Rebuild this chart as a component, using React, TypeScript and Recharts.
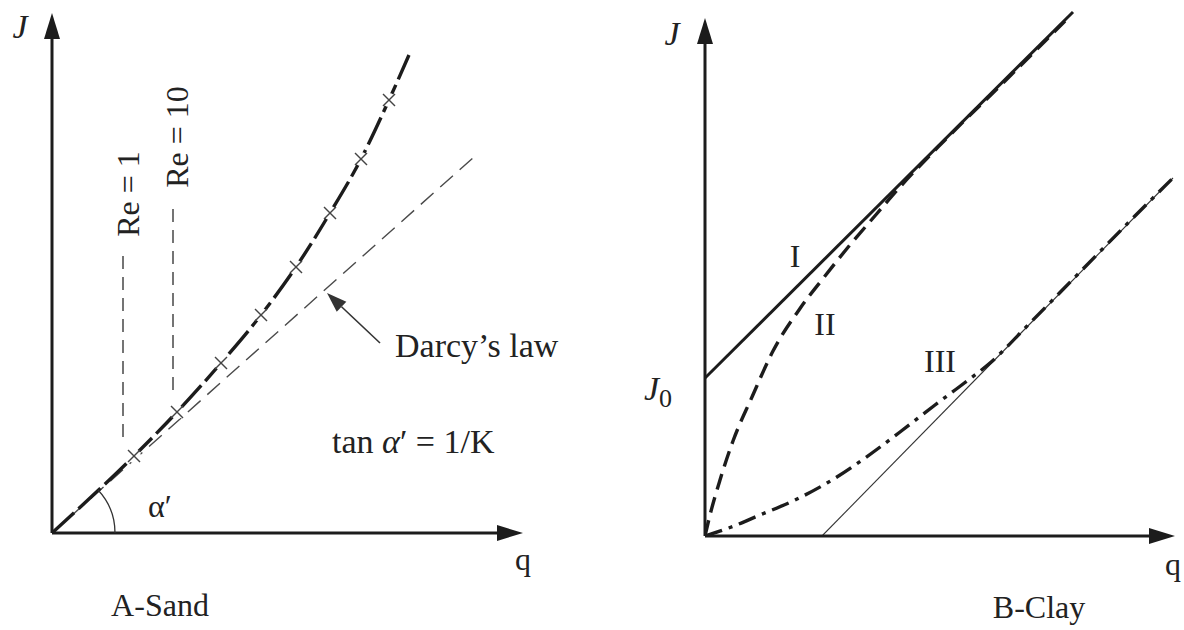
import React from 'react';
import {
  ComposedChart,
  Line,
  Scatter,
  XAxis,
  YAxis,
  ReferenceLine,
  ReferenceDot,
} from 'recharts';

const FONT = '"Liberation Serif", "Times New Roman", serif';
const INK = '#1c1c1c';

// A - sand: measured points (crosses) along the J(q) curve
const sandMeasured = [
  { q: 1.64, J: 1.54 },
  { q: 2.5, J: 2.42 },
  { q: 3.38, J: 3.4 },
  { q: 4.18, J: 4.36 },
  { q: 4.88, J: 5.32 },
  { q: 5.56, J: 6.4 },
  { q: 6.18, J: 7.48 },
  { q: 6.74, J: 8.66 },
];
const sandCurve = [{ q: 0, J: 0 }, ...sandMeasured, { q: 7.14, J: 9.56 }];
const darcyLaw = [
  { q: 0, J: 0 },
  { q: 8.44, J: 7.52 },
];
const re1 = [
  { q: 1.42, J: 1.92 },
  { q: 1.42, J: 5.6 },
];
const re10 = [
  { q: 2.42, J: 2.86 },
  { q: 2.42, J: 6.52 },
];

// B - clay
const lineI = [
  { q: 0, J: 3.16 },
  { q: 7.36, J: 10.48 },
];
const curveII = [
  { q: 0, J: 0 },
  { q: 0.1, J: 0.42 },
  { q: 0.3, J: 1.12 },
  { q: 0.56, J: 1.9 },
  { q: 0.94, J: 2.78 },
  { q: 1.36, J: 3.7 },
  { q: 1.9, J: 4.55 },
  { q: 2.4, J: 5.2 },
  { q: 2.84, J: 5.75 },
  { q: 3.44, J: 6.45 },
  { q: 3.9, J: 6.98 },
  { q: 4.8, J: 7.92 },
  { q: 6.0, J: 9.1 },
  { q: 7.2, J: 10.3 },
];
const curveIII = [
  { q: 0, J: 0 },
  { q: 0.5, J: 0.17 },
  { q: 1.1, J: 0.42 },
  { q: 1.8, J: 0.72 },
  { q: 2.44, J: 1.06 },
  { q: 3.2, J: 1.56 },
  { q: 3.9, J: 2.08 },
  { q: 4.6, J: 2.62 },
  { q: 5.2, J: 3.07 },
  { q: 5.7, J: 3.46 },
  { q: 6.5, J: 4.26 },
  { q: 7.5, J: 5.28 },
  { q: 8.5, J: 6.3 },
  { q: 9.36, J: 7.16 },
];
const asymptote = [
  { q: 2.34, J: 0 },
  { q: 9.36, J: 7.16 },
];

const arrow = (width: number, len: number, half: number, color = INK) => (p: any) => {
  const { x1, y1, x2, y2 } = p;
  const a = Math.atan2(y2 - y1, x2 - x1);
  const bx = x2 - len * Math.cos(a);
  const by = y2 - len * Math.sin(a);
  const nx = -Math.sin(a) * half;
  const ny = Math.cos(a) * half;
  return (
    <g>
      <line x1={x1} y1={y1} x2={bx} y2={by} stroke={color} strokeWidth={width} />
      <polygon points={`${x2},${y2} ${bx + nx},${by + ny} ${bx - nx},${by - ny}`} fill={color} />
    </g>
  );
};

const CrossMark = (p: any) => (
  <g>
    <circle cx={p.cx} cy={p.cy} r={7} fill="#fff" />
    <line x1={p.cx - 6} y1={p.cy - 6} x2={p.cx + 6} y2={p.cy + 6} stroke="#444" strokeWidth={1.4} />
    <line x1={p.cx - 6} y1={p.cy + 6} x2={p.cx + 6} y2={p.cy - 6} stroke="#444" strokeWidth={1.4} />
  </g>
);

const label = (
  key: string,
  x: number,
  y: number,
  content: React.ReactNode,
  opts: { anchor?: string; size?: number; italic?: boolean; rotate?: boolean } = {},
) => (
  <ReferenceDot
    key={key}
    x={x}
    y={y}
    ifOverflow="visible"
    shape={(p: any) => (
      <text
        x={p.cx}
        y={p.cy}
        fill="#222"
        fontFamily={FONT}
        fontSize={opts.size ?? 32}
        fontStyle={opts.italic ? 'italic' : 'normal'}
        textAnchor={opts.anchor ?? 'middle'}
        dominantBaseline={opts.rotate ? 'central' : 'alphabetic'}
        transform={opts.rotate ? `rotate(-90 ${p.cx} ${p.cy})` : undefined}
      >
        {content}
      </text>
    )}
  />
);

const axes = (qMax: number, jMax: number) => [
  <ReferenceLine
    key="ax-q"
    segment={[{ x: 0, y: 0 }, { x: qMax, y: 0 }]}
    ifOverflow="visible"
    shape={arrow(3, 26, 8)}
  />,
  <ReferenceLine
    key="ax-j"
    segment={[{ x: 0, y: 0 }, { x: 0, y: jMax }]}
    ifOverflow="visible"
    shape={arrow(3, 26, 8)}
  />,
];

function SandChart() {
  return (
    <ComposedChart width={600} height={630} margin={{ top: 3, left: 52, right: 48, bottom: 97 }}>
      <XAxis type="number" dataKey="q" domain={[0, 10]} allowDataOverflow hide />
      <YAxis type="number" dataKey="J" domain={[0, 10.6]} allowDataOverflow hide />
      <Line data={re1} dataKey="J" type="linear" stroke="#3a3a3a" strokeWidth={1.4} strokeDasharray="13 8" dot={false} activeDot={false} isAnimationActive={false} />
      <Line data={re10} dataKey="J" type="linear" stroke="#3a3a3a" strokeWidth={1.4} strokeDasharray="13 8" dot={false} activeDot={false} isAnimationActive={false} />
      <Line data={darcyLaw} dataKey="J" type="linear" stroke="#4a4a4a" strokeWidth={1.4} strokeDasharray="17 9" dot={false} activeDot={false} isAnimationActive={false} />
      <Line data={sandCurve} dataKey="J" type="monotone" stroke={INK} strokeWidth={3.4} strokeDasharray="30 6" dot={false} activeDot={false} isAnimationActive={false} />
      <Scatter data={sandMeasured} shape={CrossMark} isAnimationActive={false} />
      {axes(9.42, 10.4)}
      <ReferenceLine
        segment={[{ x: 6.56, y: 3.8 }, { x: 5.5, y: 4.8 }]}
        ifOverflow="visible"
        shape={arrow(1.6, 20, 7, '#333')}
      />
      <ReferenceDot
        x={0}
        y={0}
        ifOverflow="visible"
        shape={(p: any) => {
          const r = 63;
          const a = (43 * Math.PI) / 180;
          return (
            <path
              d={`M ${p.cx + r} ${p.cy} A ${r} ${r} 0 0 0 ${p.cx + r * Math.cos(a)} ${p.cy - r * Math.sin(a)}`}
              fill="none"
              stroke="#333"
              strokeWidth={1.3}
            />
          );
        }}
      />
      {label('j', -0.64, 9.9, 'J', { italic: true, size: 34 })}
      {label('q', 9.42, -0.74, 'q')}
      {label('re1', 1.52, 6.78, 'Re = 1', { rotate: true })}
      {label('re10', 2.5, 7.92, 'Re = 10', { rotate: true })}
      {label('darcy', 6.86, 3.52, 'Darcy\u2019s law', { anchor: 'start', size: 34 })}
      {label(
        'tan',
        5.6,
        1.6,
        <>
          tan <tspan fontStyle="italic">α</tspan>′ = 1/K
        </>,
        { anchor: 'start', size: 34 },
      )}
      {label('alpha', 1.92, 0.32, 'α′', { anchor: 'start' })}
      {label('cap', 2.16, -1.66, 'A-Sand')}
    </ComposedChart>
  );
}

function ClayChart() {
  return (
    <ComposedChart width={584} height={630} margin={{ top: 6, left: 105, right: 4, bottom: 94 }}>
      <XAxis type="number" dataKey="q" domain={[0, 9.5]} allowDataOverflow hide />
      <YAxis type="number" dataKey="J" domain={[0, 10.6]} allowDataOverflow hide />
      <Line data={asymptote} dataKey="J" type="linear" stroke="#333" strokeWidth={1.1} dot={false} activeDot={false} isAnimationActive={false} />
      <Line data={lineI} dataKey="J" type="linear" stroke={INK} strokeWidth={3} dot={false} activeDot={false} isAnimationActive={false} />
      <Line data={curveII} dataKey="J" type="monotone" stroke={INK} strokeWidth={3.4} strokeDasharray="16 8" dot={false} activeDot={false} isAnimationActive={false} />
      <Line data={curveIII} dataKey="J" type="monotone" stroke={INK} strokeWidth={3.4} strokeDasharray="18 7 4 7" dot={false} activeDot={false} isAnimationActive={false} />
      {axes(9.4, 10.36)}
      {label('j', -0.66, 9.82, 'J', { italic: true, size: 34 })}
      {label(
        'j0',
        -0.94,
        2.72,
        <>
          <tspan fontStyle="italic">J</tspan>
          <tspan fontSize={26} dy={7}>0</tspan>
        </>,
        { size: 34 },
      )}
      {label('i', 1.8, 5.38, 'I')}
      {label('ii', 2.4, 4.02, 'II')}
      {label('iii', 4.7, 3.28, 'III')}
      {label('q', 9.36, -0.78, 'q')}
      {label('cap', 6.68, -1.64, 'B-Clay')}
    </ComposedChart>
  );
}

export default function App() {
  return (
    <div
      style={{
        position: 'absolute',
        left: 0,
        top: 0,
        width: 1184,
        height: 630,
        background: '#fff',
        overflow: 'hidden',
      }}
    >
      <div style={{ position: 'absolute', left: 0, top: 0 }}>
        <SandChart />
      </div>
      <div style={{ position: 'absolute', left: 600, top: 0 }}>
        <ClayChart />
      </div>
    </div>
  );
}
